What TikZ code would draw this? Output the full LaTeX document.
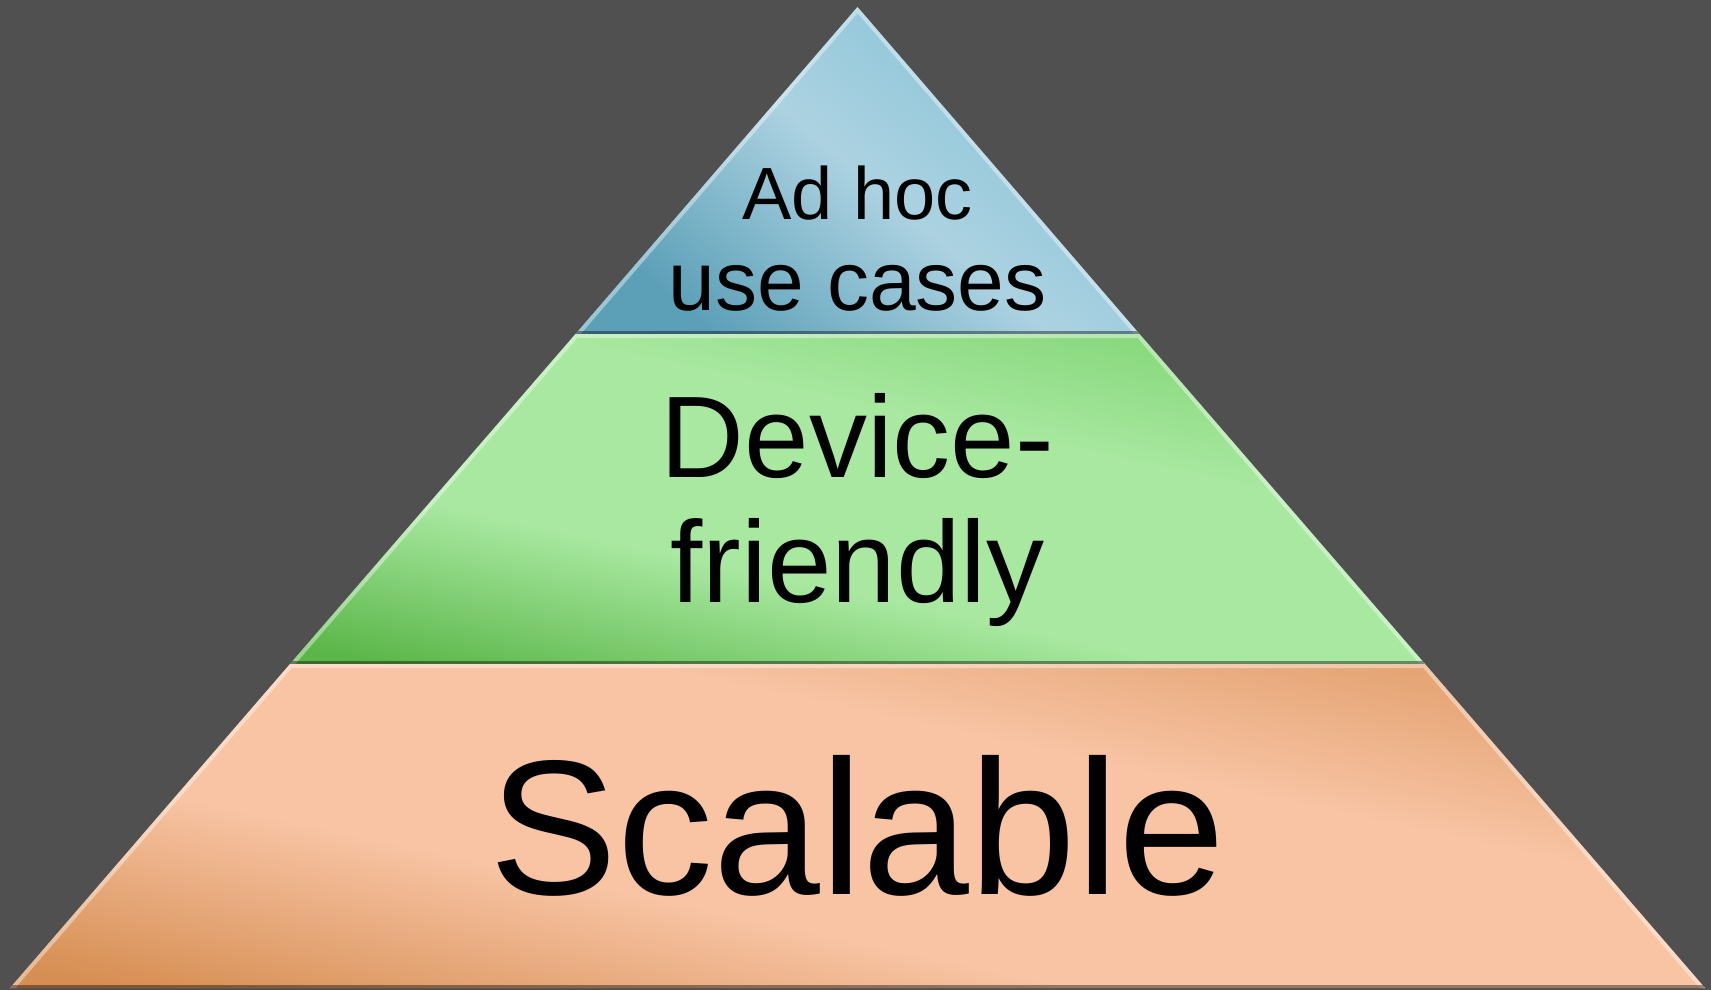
\documentclass[tikz,border=0pt]{standalone}
\usepackage{fontspec}
\setmainfont{Liberation Sans}

\definecolor{backdrop}{RGB}{80,80,80}
\definecolor{blueDark}{RGB}{92,160,184}
\definecolor{blueLight}{RGB}{172,210,225}
\definecolor{blueTop}{RGB}{132,194,215}
\definecolor{greenDark}{RGB}{90,182,72}
\definecolor{greenLight}{RGB}{168,232,160}
\definecolor{greenTop}{RGB}{118,208,106}
\definecolor{orangeDark}{RGB}{214,142,82}
\definecolor{orangeLight}{RGB}{248,196,164}
\definecolor{orangeTop}{RGB}{220,150,94}

\pgfdeclareverticalshading{greenband}{100bp}{color(0bp)=(greenDark); color(22bp)=(greenDark);
  color(40bp)=(greenLight); color(60bp)=(greenLight); color(80bp)=(greenTop); color(100bp)=(greenTop)}
\pgfdeclareverticalshading{orangeband}{100bp}{color(0bp)=(orangeDark); color(22bp)=(orangeDark);
  color(40bp)=(orangeLight); color(60bp)=(orangeLight); color(80bp)=(orangeTop); color(100bp)=(orangeTop)}

\tikzset{
  hiedge/.style={draw=white, draw opacity=.4, line width=8pt, line join=miter},
  lowedge/.style={draw=black, draw opacity=.4, line width=6pt},
  tiertext/.style={anchor=base, inner sep=0pt, text=black}
}

\begin{document}
\begin{tikzpicture}[x=1pt,y=-1pt]

  \fill [backdrop] (0,0) rectangle (1711,990);
  \useasboundingbox (0,0) rectangle (1711,990);

  \coordinate (T)   at (857.5,7);
  \coordinate (B1l) at (575.5,334);
  \coordinate (B1r) at (1139.5,334);
  \coordinate (B2l) at (290,664);
  \coordinate (B2r) at (1425,664);
  \coordinate (Bl)  at (10,988);
  \coordinate (Br)  at (1705,988);

  % top tier
  \begin{scope}
    \clip (T) -- (B1r) -- (B1l) -- cycle;
    \shade [top color=blueTop, bottom color=blueDark, middle color=blueLight, shading angle=-40]
      (T) -- (B1r) -- (B1l) -- cycle;
    \draw [hiedge] (B1l) -- (T) -- (B1r);
    \draw [lowedge] (B1l) -- (B1r);
  \end{scope}

  % middle tier
  \begin{scope}
    \clip (B1l) -- (B1r) -- (B2r) -- (B2l) -- cycle;
    \shade [shading=greenband, shading angle=-12]
      (B1l) -- (B1r) -- (B2r) -- (B2l) -- cycle;
    \draw [hiedge] (B2l) -- (B1l) -- (B1r) -- (B2r);
    \draw [lowedge] (B2l) -- (B2r);
  \end{scope}

  % bottom tier
  \begin{scope}
    \clip (B2l) -- (B2r) -- (Br) -- (Bl) -- cycle;
    \shade [shading=orangeband, shading angle=-12]
      (B2l) -- (B2r) -- (Br) -- (Bl) -- cycle;
    \draw [hiedge] (Bl) -- (B2l) -- (B2r) -- (Br);
    \draw [lowedge] (Bl) -- (Br);
  \end{scope}

  \node (adhoc)    at (857.5,219) [tiertext] {\fontsize{74}{80}\selectfont Ad hoc};
  \node (usecases) at (857.5,310) [tiertext] {\fontsize{84}{90}\selectfont use cases};
  \node (device)   at (857.5,477) [tiertext] {\fontsize{116}{120}\selectfont Device-};
  \node (friendly) at (857.5,602) [tiertext] {\fontsize{116}{120}\selectfont friendly};
  \node (scalable) at (857.5,894) [tiertext] {\fontsize{192}{200}\selectfont Scalable};
\end{tikzpicture}
\end{document}
